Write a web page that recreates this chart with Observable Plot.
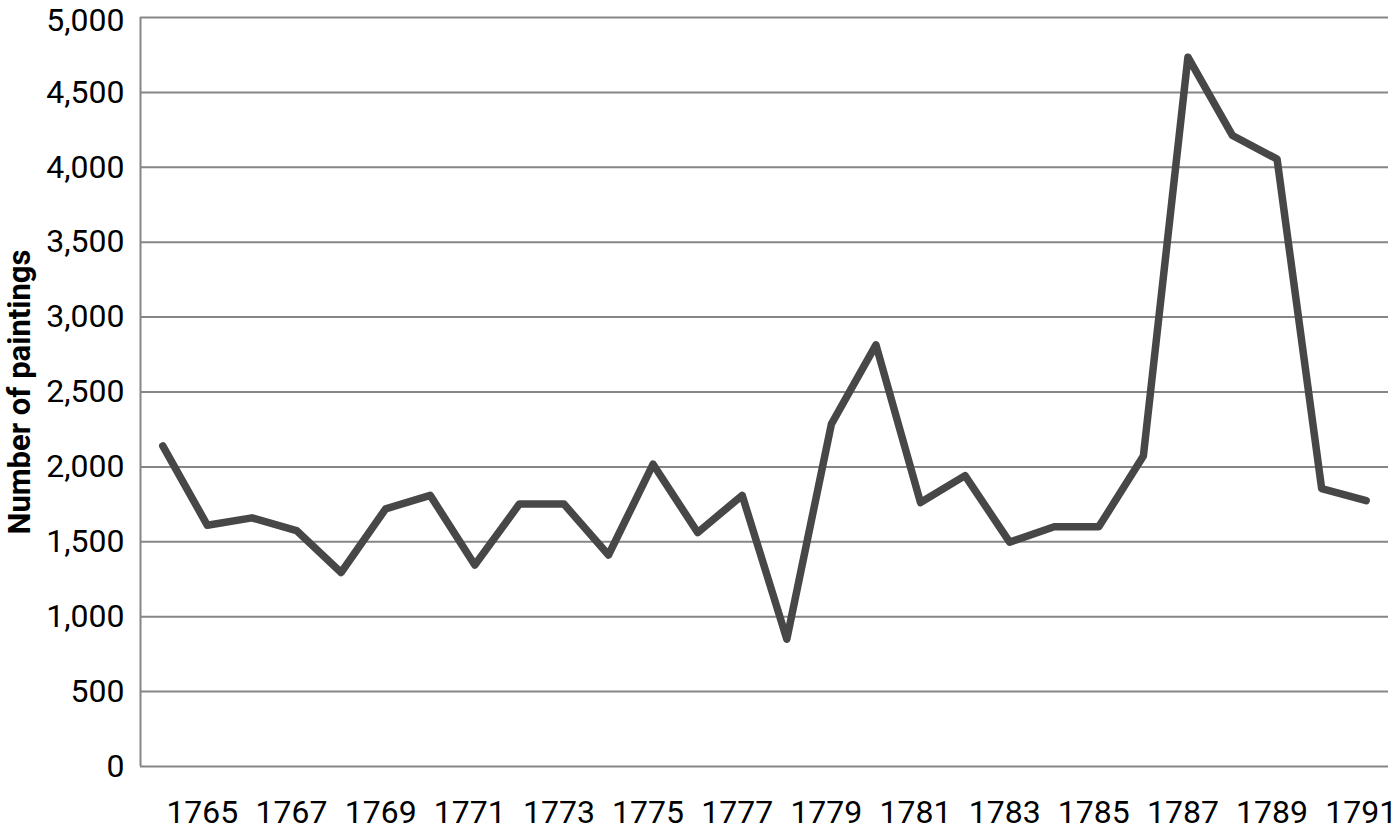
<!DOCTYPE html>
<html>
<head>
<meta charset="utf-8">
<script src="https://cdn.jsdelivr.net/npm/d3@7"></script>
<script src="https://cdn.jsdelivr.net/npm/@observablehq/plot@0.6"></script>
<style>
  html, body { margin: 0; padding: 0; background: #fff; }
  #chart svg { display: block; }
  g[aria-label="y-axis label"] text { font-weight: bold; font-size: 31px; }
</style>
</head>
<body>
<div id="chart"></div>
<script>
// Data
const years = [1764, 1765, 1766, 1767, 1768, 1769, 1770, 1771, 1772, 1773, 1774, 1775, 1776, 1777,
               1778, 1779, 1780, 1781, 1782, 1783, 1784, 1785, 1786, 1787, 1788, 1789, 1790, 1791];
const paintings = [2140, 1610, 1660, 1575, 1295, 1720, 1810, 1345, 1752, 1752, 1412, 2018, 1562, 1810,
                   850, 2285, 2815, 1762, 1942, 1498, 1600, 1600, 2072, 4735, 4212, 4055, 1855, 1775];
const xTicks = [1765, 1767, 1769, 1771, 1773, 1775, 1777, 1779, 1781, 1783, 1785, 1787, 1789, 1791];
const yTicks = [0, 500, 1000, 1500, 2000, 2500, 3000, 3500, 4000, 4500, 5000];
const yLabel = "Number of paintings";

const data = years.map((year, i) => ({year, value: paintings[i]}));
const fmt = d3.format(",");

const chart = Plot.plot({
  width: 1400,
  height: 831,
  marginLeft: 140,
  marginRight: 12,
  marginTop: 17,
  marginBottom: 65,
  style: {fontFamily: "Roboto, sans-serif", fontSize: "32px", color: "#000", background: "#fff"},
  x: {domain: [years[0] - 0.5, years[years.length - 1] + 0.5]},
  y: {domain: [0, 5000]},
  marks: [
    Plot.ruleY(yTicks, {stroke: "#868686", strokeWidth: 2}),
    Plot.ruleX([years[0] - 0.5], {stroke: "#868686", strokeWidth: 2}),
    Plot.axisY({
      ticks: yTicks.slice(0, -1), tickFormat: fmt, tickSize: 0, tickPadding: 16,
      label: yLabel, labelAnchor: "center", labelOffset: 133, labelArrow: false,
      fill: "#000"
    }),
    Plot.axisY({
      ticks: yTicks.slice(-1), tickFormat: fmt, tickSize: 0, tickPadding: 16,
      label: null, fill: "#000", dy: 3
    }),
    Plot.axisX({
      ticks: xTicks, tickFormat: d => String(d), tickSize: 0, tickPadding: 34,
      label: null, fill: "#000", dx: -5
    }),
    Plot.line(data, {x: "year", y: "value", stroke: "#474747", strokeWidth: 7.5,
      strokeLinejoin: "round", strokeLinecap: "round"})
  ]
});
document.getElementById("chart").appendChild(chart);
</script>
</body>
</html>
